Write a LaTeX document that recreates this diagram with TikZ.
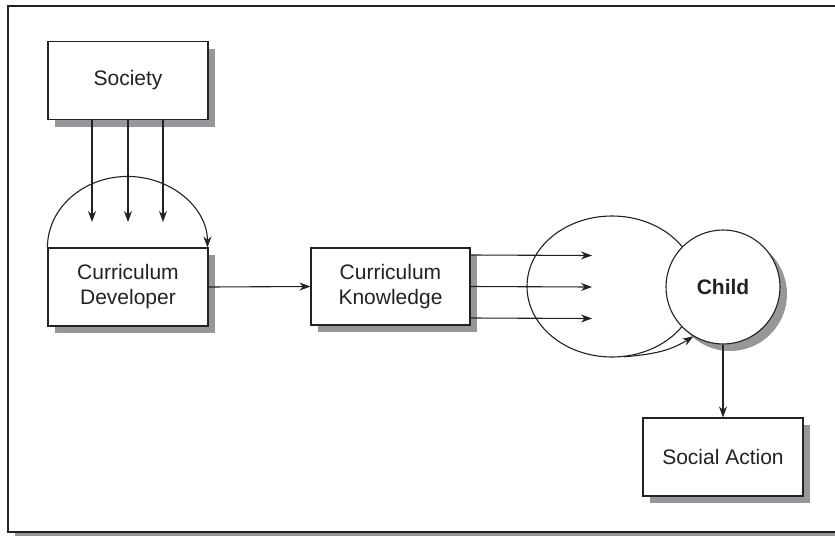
\documentclass[tikz,border=0pt]{standalone}
\usepackage{fontspec}
\setmainfont{Liberation Sans}
\usepackage{xcolor}
\usetikzlibrary{arrows.meta,shadows,shapes.geometric}
\definecolor{ink}{HTML}{222222}
\definecolor{shade}{HTML}{96969B}

\begin{document}
\begin{tikzpicture}[x=1pt, y=1pt, >={Stealth[length=11pt,width=8pt]}, color=ink, line width=1.1pt,
    shadowed/.style={general shadow={fill=shade, shadow xshift=7pt, shadow yshift=-7pt}},
    box/.style={rectangle, fill=white, draw, shadowed, minimum width=160pt, minimum height=78pt,
        align=center, font=\fontsize{21}{25}\selectfont}]
    \useasboundingbox (0,0) rectangle (835,-536);
    % frame
    \draw [fill=white, line width=1.5pt, general shadow={fill=shade, shadow xshift=7pt, shadow yshift=-4pt}] (8,-6) rectangle (850,-532);

    \node [box] (soc) at (128,-80.5) {Society};
    \node [box] (dev) at (128,-287) {Curriculum\\Developer};
    \node [box, minimum width=159pt, minimum height=77pt] (know) at (390.5,-286.5) {Curriculum\\Knowledge};
    \node [box] (act) at (723,-457) {Social Action};
    \node [ellipse, draw, minimum width=170pt, minimum height=141pt] (field) at (612,-286.5) {};
    \node [circle, fill=white, draw, shadowed, minimum size=114pt,
        font=\fontsize{21}{25}\selectfont\bfseries] (child) at (723,-287) {Child};

    \coordinate (drop) at (128,-222);
    \coordinate (aim) at (592,-287);
    \foreach \dx in {-36,0,35}
        \draw [->] ([xshift=\dx pt]soc.south) -- ([xshift=\dx pt]drop);
    \draw [->] (dev.north west) arc [start angle=180, end angle=0, x radius=80pt, y radius=71pt];
    \draw [->] (dev.east) -- (know.west);
    \foreach \dy in {31.5,0,-31.5}
        \draw [->] ([yshift=\dy pt]know.east) -- ([yshift=\dy pt]aim);
    \draw [->] (field.-80) to [out=5, in=212] (child.239);
    \draw [->] (child.south) -- (act.north);
\end{tikzpicture}
\end{document}
